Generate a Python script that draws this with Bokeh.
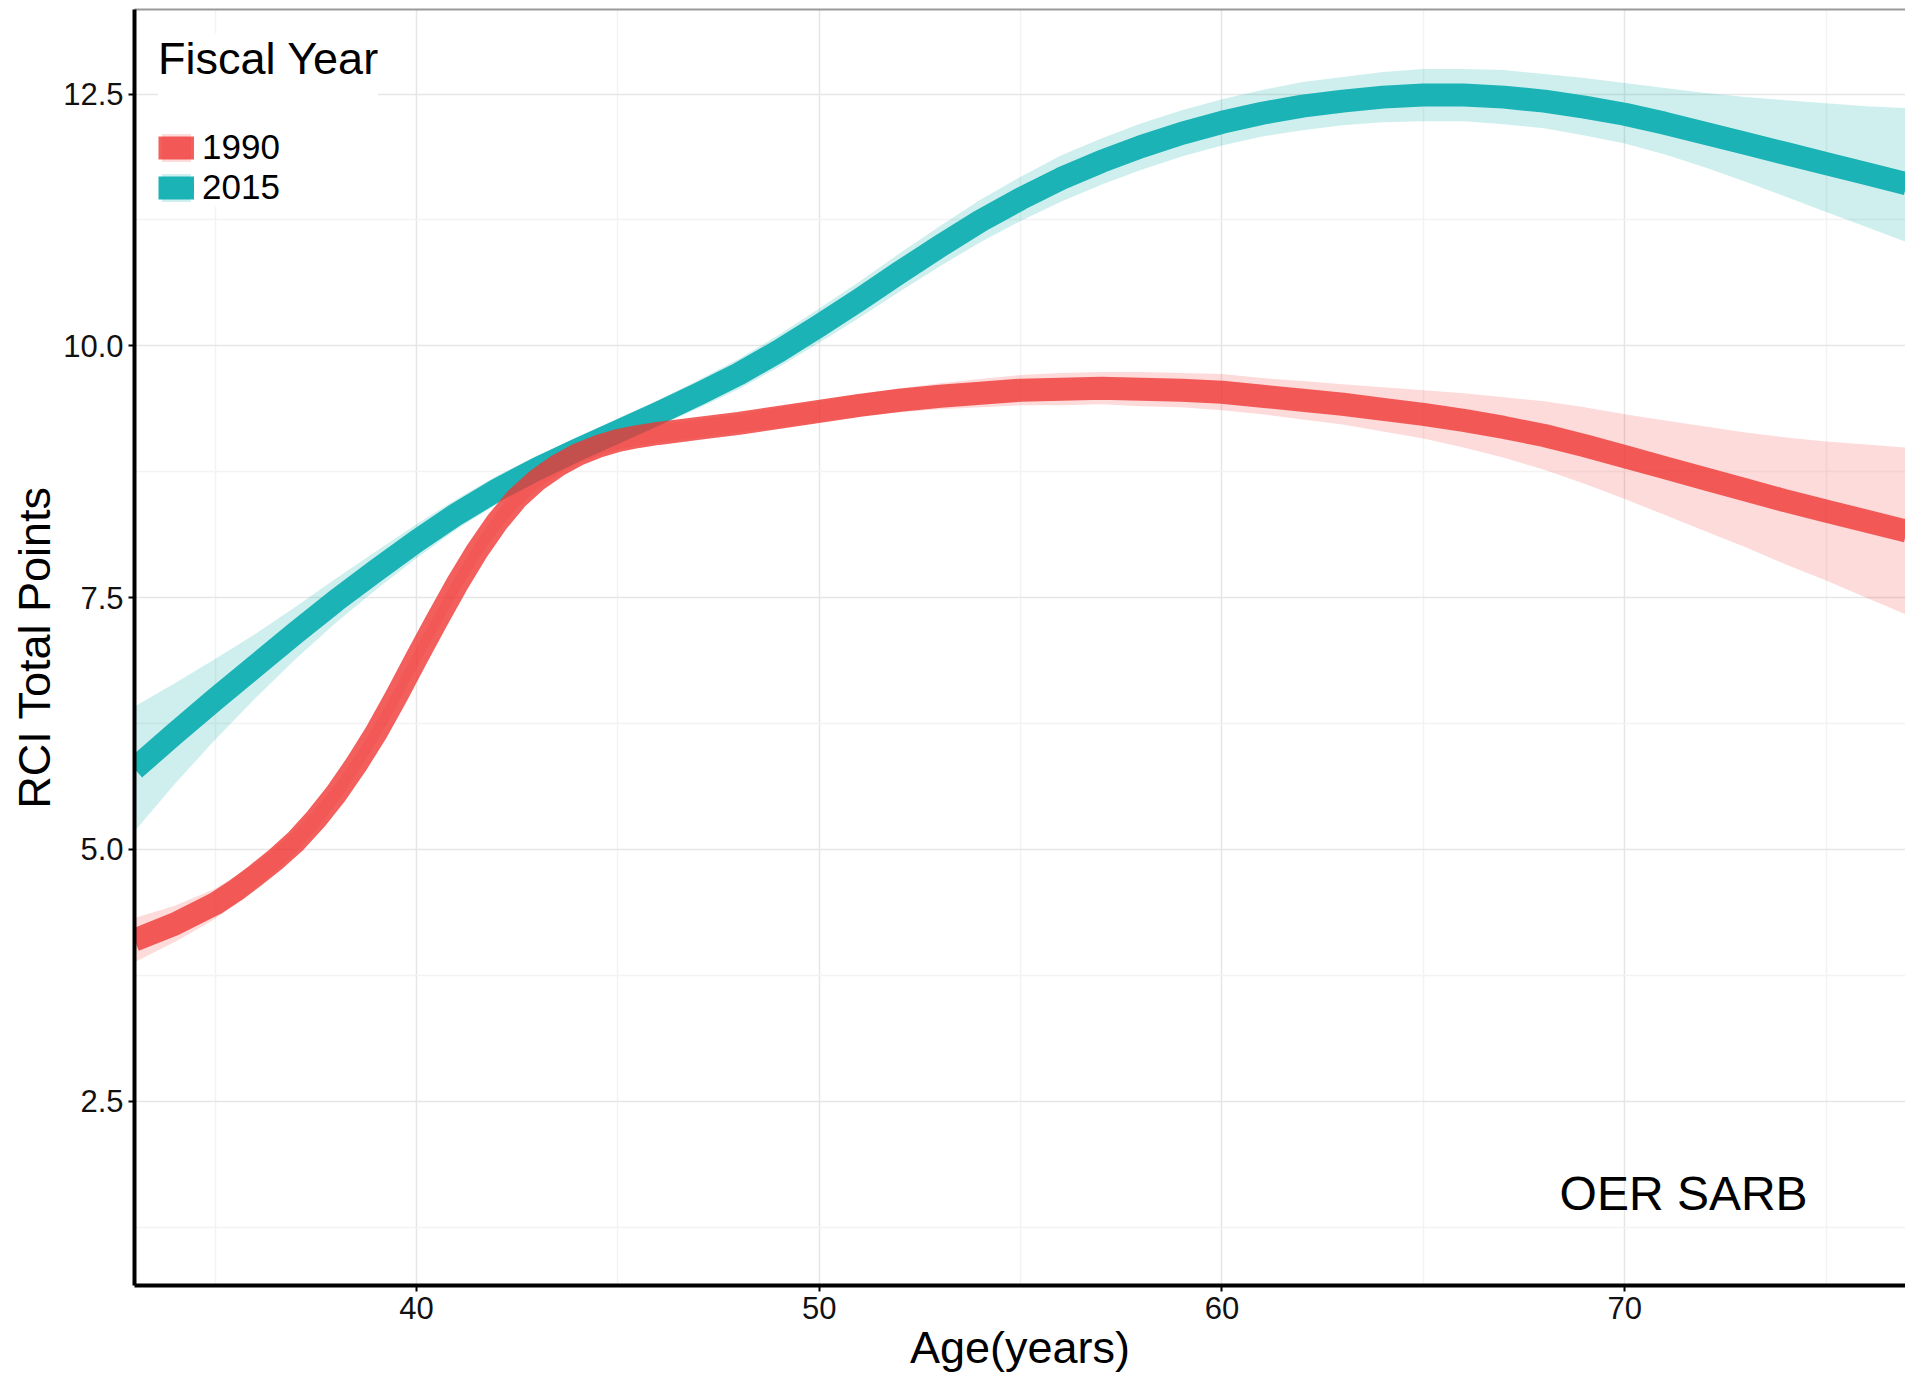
from bokeh.plotting import figure
from bokeh.models import (Range1d, FixedTicker, Legend, LegendItem, LinearAxis,
                          ColumnDataSource)
from bokeh.core.properties import value
from bokeh.embed import file_html
from bokeh.resources import INLINE

# ---------------- data ----------------
ages_1990 = [33, 34, 35, 35.5, 36, 36.5, 37, 37.5, 38, 38.5, 39, 39.5, 40, 40.5,
             41, 41.5, 42, 42.5, 43, 43.5, 44, 44.5, 45, 45.5, 46, 47, 48, 49, 50,
             51, 52, 53, 54, 55, 56, 57, 58, 59, 60, 61, 62, 63, 64, 65, 66, 67,
             68, 69, 70, 71, 72, 73, 74, 75, 76, 77]
rci_1990 = [4.10, 4.26, 4.46, 4.59, 4.74, 4.90, 5.08, 5.30, 5.55, 5.84, 6.16, 6.52,
            6.90, 7.27, 7.63, 7.96, 8.25, 8.49, 8.67, 8.81, 8.92, 9.00, 9.06, 9.10,
            9.13, 9.18, 9.23, 9.29, 9.35, 9.41, 9.46, 9.50, 9.53, 9.56, 9.57, 9.58,
            9.57, 9.56, 9.54, 9.50, 9.46, 9.42, 9.37, 9.32, 9.26, 9.19, 9.11, 9.01,
            8.90, 8.79, 8.68, 8.57, 8.46, 8.36, 8.26, 8.16]
se_1990 = [0.22, 0.18, 0.15, 0.14, 0.12, 0.12, 0.11, 0.11, 0.10, 0.10, 0.10, 0.10,
           0.10, 0.10, 0.10, 0.10, 0.10, 0.10, 0.09, 0.09, 0.09, 0.09, 0.09, 0.09,
           0.09, 0.09, 0.09, 0.10, 0.10, 0.11, 0.12, 0.13, 0.14, 0.15, 0.16, 0.16,
           0.17, 0.17, 0.18, 0.18, 0.19, 0.20, 0.22, 0.24, 0.27, 0.30, 0.34, 0.38,
           0.42, 0.47, 0.52, 0.57, 0.63, 0.69, 0.76, 0.83]

ages_2015 = [33, 34, 35, 36, 37, 38, 39, 40, 41, 42, 43, 44, 45, 46, 47, 48, 49, 50,
             51, 52, 53, 54, 55, 56, 57, 58, 59, 60, 61, 62, 63, 64, 65, 66, 67, 68,
             69, 70, 71, 72, 73, 74, 75, 76, 77]
rci_2015 = [5.80, 6.15, 6.49, 6.82, 7.15, 7.47, 7.77, 8.06, 8.33, 8.57, 8.78, 8.97,
            9.15, 9.33, 9.52, 9.72, 9.95, 10.20, 10.46, 10.73, 10.99, 11.24, 11.46,
            11.66, 11.83, 11.98, 12.11, 12.22, 12.31, 12.38, 12.43, 12.47, 12.49,
            12.49, 12.47, 12.43, 12.37, 12.30, 12.21, 12.11, 12.01, 11.91, 11.81,
            11.71, 11.61]
upper_2015 = [0.62, 0.50, 0.40, 0.32, 0.26, 0.22, 0.19, 0.17, 0.15, 0.14, 0.13, 0.12,
              0.13, 0.13, 0.14, 0.15, 0.16, 0.17, 0.18, 0.19, 0.20, 0.21, 0.22, 0.23,
              0.23, 0.23, 0.23, 0.23, 0.23, 0.24, 0.24, 0.25, 0.26, 0.26, 0.27, 0.27,
              0.29, 0.31, 0.35, 0.40, 0.46, 0.53, 0.60, 0.67, 0.75]
lower_2015 = [0.62, 0.50, 0.40, 0.32, 0.26, 0.22, 0.19, 0.17, 0.15, 0.14, 0.13, 0.12,
              0.13, 0.13, 0.14, 0.15, 0.16, 0.17, 0.18, 0.19, 0.20, 0.21, 0.22, 0.23,
              0.23, 0.23, 0.23, 0.23, 0.23, 0.24, 0.24, 0.25, 0.26, 0.26, 0.27, 0.27,
              0.28, 0.29, 0.31, 0.34, 0.38, 0.43, 0.48, 0.53, 0.58]

series_labels = ["1990", "2015"]
x_ticks = [40, 50, 60, 70]
x_minor = [35, 45, 55, 65, 75]
y_ticks = [2.5, 5.0, 7.5, 10.0, 12.5]
y_tick_labels = ["2.5", "5.0", "7.5", "10.0", "12.5"]
y_minor = [1.25, 3.75, 6.25, 8.75, 11.25]
annotation_text = "OER SARB"
annotation_x = [71.46]
annotation_y = [1.58]

# ---------------- styles ----------------
FONT = "Liberation Sans"
RED = "#EF3733"
TEAL = "#1BB3B5"

src_1990 = ColumnDataSource(dict(
    x=ages_1990, y=rci_1990,
    lo=[v - s for v, s in zip(rci_1990, se_1990)],
    hi=[v + s for v, s in zip(rci_1990, se_1990)]))
src_2015 = ColumnDataSource(dict(
    x=ages_2015, y=rci_2015,
    lo=[v - s for v, s in zip(rci_2015, lower_2015)],
    hi=[v + s for v, s in zip(rci_2015, upper_2015)]))

p = figure(width=1905, height=1381,
           x_range=Range1d(33.0, 76.97), y_range=Range1d(0.67, 13.34),
           output_backend="svg", toolbar_location=None,
           min_border_left=134, min_border_right=0,
           min_border_top=9, min_border_bottom=96)
p.background_fill_color = "white"
p.border_fill_color = "white"
p.outline_line_color = None

# ribbons
b1990 = p.varea(x="x", y1="lo", y2="hi", source=src_1990, fill_color=RED, fill_alpha=0.18)
b2015 = p.varea(x="x", y1="lo", y2="hi", source=src_2015, fill_color=TEAL, fill_alpha=0.21)

# lines
l2015 = p.line(x="x", y="y", source=src_2015, line_color=TEAL, line_width=23,
               line_join="round", line_cap="butt")
l1990 = p.line(x="x", y="y", source=src_1990, line_color=RED, line_width=23,
               line_alpha=0.8, line_join="round", line_cap="butt")

# annotation
p.text(x=annotation_x, y=annotation_y, text=[annotation_text],
       text_font=value(FONT), text_font_size="48px", text_color="black",
       text_align="center", text_baseline="alphabetic")

# axes
for ax in (p.xaxis[0], p.yaxis[0]):
    ax.axis_line_color = "black"
    ax.axis_line_width = 4
    ax.major_tick_line_color = "black"
    ax.major_tick_line_width = 2
    ax.major_tick_out = 6
    ax.major_tick_in = 0
    ax.minor_tick_line_color = None
    ax.major_label_text_font = FONT
    ax.major_label_text_font_size = "31px"
    ax.major_label_text_color = "#111111"
    ax.axis_label_text_font = FONT
    ax.axis_label_text_font_size = "45px"
    ax.axis_label_text_font_style = "normal"
    ax.axis_label_text_color = "black"

p.xaxis.ticker = FixedTicker(ticks=x_ticks, minor_ticks=x_minor)
p.yaxis.ticker = FixedTicker(ticks=y_ticks, minor_ticks=y_minor)
p.yaxis.major_label_overrides = {t: l for t, l in zip(y_ticks, y_tick_labels)}
p.xaxis.axis_label = "Age(years)"
p.yaxis.axis_label = "RCI Total Points"
p.xaxis.major_label_standoff = 5
p.yaxis.major_label_standoff = 5
p.xaxis.axis_label_standoff = 0
p.yaxis.axis_label_standoff = 0

# top border line
top = LinearAxis(ticker=FixedTicker(ticks=[]), axis_line_color="#9A9A9A",
                 axis_line_width=2, major_tick_line_color=None,
                 minor_tick_line_color=None, major_label_text_font_size="0px")
p.add_layout(top, "above")

# grid
p.xgrid.grid_line_color = "#E6E6E6"
p.xgrid.grid_line_width = 1.5
p.ygrid.grid_line_color = "#E6E6E6"
p.ygrid.grid_line_width = 1.5
p.xgrid.minor_grid_line_color = "#F3F3F3"
p.xgrid.minor_grid_line_width = 1.5
p.ygrid.minor_grid_line_color = "#F3F3F3"
p.ygrid.minor_grid_line_width = 1.5

# legend
legend = Legend(items=[LegendItem(label=series_labels[0], renderers=[b1990, l1990]),
                       LegendItem(label=series_labels[1], renderers=[b2015, l2015])],
                location="top_left", title="Fiscal Year")
legend.margin = 24
legend.padding = 6
legend.spacing = 0
legend.glyph_width = 36
legend.glyph_height = 35
legend.label_height = 35
legend.label_standoff = 8
legend.label_text_font = FONT
legend.label_text_font_size = "35px"
legend.label_text_color = "black"
legend.title_text_font = FONT
legend.title_text_font_size = "45px"
legend.title_text_font_style = "normal"
legend.title_text_color = "black"
legend.title_standoff = 42
legend.border_line_color = None
legend.background_fill_color = "white"
legend.background_fill_alpha = 1.0
p.add_layout(legend)

open("out.html", "w").write(file_html(p, INLINE))
